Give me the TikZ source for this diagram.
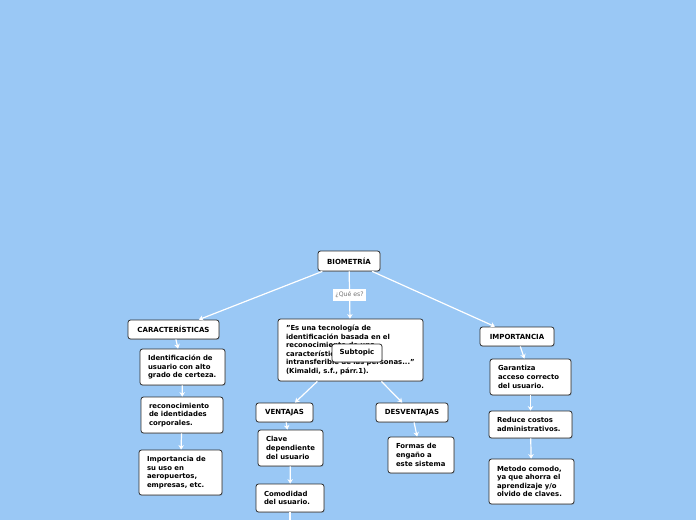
\documentclass[tikz,border=0pt]{standalone}
\usepackage{fontspec}
\setmainfont{DejaVu Sans}
\usetikzlibrary{arrows.meta,shadows}
\definecolor{bgblue}{RGB}{154,200,245}
\definecolor{edge}{RGB}{45,45,45}
\tikzset{
  box/.style={draw=edge, fill=white, rounded corners=2.5pt, line width=0.8pt,
    font=\bfseries\fontsize{6.9}{8.6}\selectfont, align=left, inner xsep=8pt, inner ysep=2pt,
    drop shadow={shadow xshift=0.7pt, shadow yshift=-0.9pt, opacity=0.35}},
  head/.style={box, align=center, inner xsep=2pt, font=\bfseries\fontsize{7}{8}\selectfont},
  conn/.style={draw=white, line width=1.2pt, -{Stealth[length=4.5pt,width=5.5pt]}},
  lbl/.style={fill=white, text=black!55, font=\fontsize{6.2}{7}\selectfont, inner xsep=2.5pt, inner ysep=2pt, minimum height=12pt}
}
\begin{document}
\begin{tikzpicture}[x=1pt,y=-1pt]
\useasboundingbox[fill=bgblue] (0,0) rectangle (696,520);

\node[head, minimum width=62pt, minimum height=20pt] (bio) at (349,261) {BIOMETRÍA};
\node[head, minimum width=91pt, minimum height=19pt] (car) at (173.5,329.5) {CARACTERÍSTICAS};
\node[head, minimum width=74pt, minimum height=19pt] (imp) at (517,336.5) {IMPORTANCIA};
\node[box, text width=129pt, minimum height=62pt] (quote) at (350.5,350) {"Es una tecnología de\\identificación basada en el\\reconocimiento de una\\característica física e\\intransferible de las personas..."\\(Kimaldi, s.f., párr.1).};
\node[head, minimum width=50pt, minimum height=18pt] (sub) at (357,353) {Subtopic};

\node[box, text width=69pt, minimum height=36pt] (ident) at (182.5,367) {Identificación de\\usuario con alto\\grado de certeza.};
\node[box, text width=66pt, minimum height=36pt] (recon) at (182,415) {reconocimiento\\de identidades\\corporales.};
\node[box, text width=67pt, minimum height=45pt] (uso) at (180.5,472.5) {Importancia de\\su uso en\\aeropuertos,\\empresas, etc.};

\node[head, minimum width=57pt, minimum height=19pt] (ven) at (284.5,412.5) {VENTAJAS};
\node[head, minimum width=72pt, minimum height=19pt] (des) at (412,412.5) {DESVENTAJAS};
\node[box, text width=49pt, minimum height=36pt] (clave) at (290.5,448) {Clave\\dependiente\\del usuario};
\node[box, text width=52pt, minimum height=28pt] (como) at (290,498) {Comodidad\\del usuario.};
\node[box, text width=50pt, minimum height=36pt] (formas) at (421,455) {Formas de\\engaño a\\este sistema};

\node[box, text width=65pt, minimum height=36pt] (gar) at (530.5,377) {Garantiza\\acceso correcto\\del usuario.};
\node[box, text width=67pt, minimum height=27pt] (red) at (530.5,424.5) {Reduce costos\\administrativos.};
\node[box, text width=69pt, minimum height=45pt] (met) at (531.5,481.5) {Metodo comodo,\\ya que ahorra el\\aprendizaje y/o\\olvido de claves.};

\coordinate (more) at (290,528);

\draw[conn] (bio) -- (car);
\draw[conn] (bio) -- (imp);
\draw[conn] (bio) -- node[lbl] {¿Qué es?} (quote);
\draw[conn] (quote) -- (ven);
\draw[conn] (quote) -- (des);
\draw[conn] (car) -- (ident);
\draw[conn] (ident) -- (recon);
\draw[conn] (recon) -- (uso);
\draw[conn] (ven) -- (clave);
\draw[conn] (clave) -- (como);
\draw[conn] (como) -- (more);
\draw[conn] (des) -- (formas);
\draw[conn] (imp) -- (gar);
\draw[conn] (gar) -- (red);
\draw[conn] (red) -- (met);
\end{tikzpicture}
\end{document}
